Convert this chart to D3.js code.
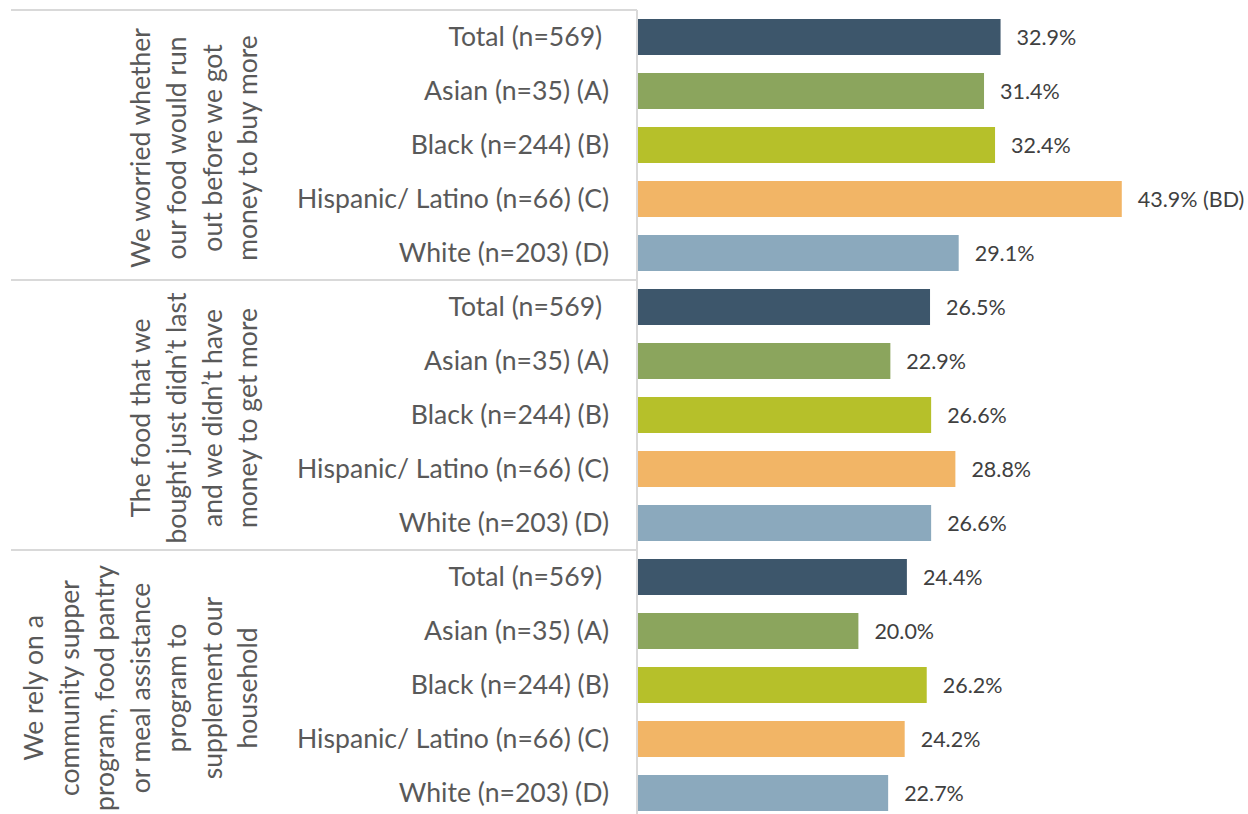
<!DOCTYPE html>
<html>
<head>
<meta charset="utf-8">
<script src="https://cdn.jsdelivr.net/npm/d3@7"></script>
<style>
  html, body { margin: 0; padding: 0; background: #ffffff; }
  svg { display: block; }
</style>
</head>
<body>
<svg id="chart" width="1248" height="814"></svg>
<script>
// Survey statements (group labels, pre-broken into lines)
const statements = [
  ["We worried whether", "our food would run", "out before we got", "money to buy more"],
  ["The food that we", "bought just didn\u2019t last", "and we didn\u2019t have", "money to get more"],
  ["We rely on a", "community supper", "program, food pantry", "or meal assistance", "program to", "supplement our", "household"]
];

// Respondent groups
const categories = [
  "Total (n=569)\u00A0",
  "Asian (n=35) (A)",
  "Black (n=244) (B)",
  "Hispanic/ Latino (n=66) (C)",
  "White (n=203) (D)"
];

// Percent agreeing, by statement
const worriedRunOut = [32.9, 31.4, 32.4, 43.9, 29.1];
const didntLast     = [26.5, 22.9, 26.6, 28.8, 26.6];
const relyOnProgram = [24.4, 20.0, 26.2, 24.2, 22.7];

// Significance markers shown after the value
const worriedSig = ["", "", "", "BD", ""];
const lastSig    = ["", "", "", "", ""];
const relySig    = ["", "", "", "", ""];

const seriesValues = [worriedRunOut, didntLast, relyOnProgram];
const seriesSig = [worriedSig, lastSig, relySig];

const colors = ["#3d566b", "#8ba55d", "#b6c02a", "#f2b566", "#8ba9bd"];

const rows = [];
seriesValues.forEach((vals, g) => {
  vals.forEach((v, c) => {
    rows.push({ key: g + "-" + c, g, c, value: v, sig: seriesSig[g][c] });
  });
});

const svg = d3.select("#chart");
const fontFamily = "Lato, 'Open Sans', sans-serif";

const axisX = 637;
const topY = 10;
const bottomY = 820;

const y = d3.scaleBand()
  .domain(rows.map(d => d.key))
  .range([topY, bottomY])
  .paddingInner(1 / 3)
  .paddingOuter(1 / 6);

const x = d3.scaleLinear()
  .domain([0, 50])
  .range([axisX + 1, axisX + 1 + 551]);

// Group dividers and the category axis line
const groupEdges = d3.range(statements.length + 1).map(i => {
  const first = rows[Math.min(i * categories.length, rows.length - 1)].key;
  return i < statements.length ? y(first) - y.step() * y.paddingOuter() : bottomY;
});

svg.append("g")
  .selectAll("line")
  .data(groupEdges)
  .join("line")
  .attr("x1", 11)
  .attr("x2", axisX)
  .attr("y1", d => d)
  .attr("y2", d => d)
  .attr("stroke", "#d9d9d9")
  .attr("stroke-width", 2);

svg.append("line")
  .attr("x1", axisX)
  .attr("x2", axisX)
  .attr("y1", topY)
  .attr("y2", bottomY)
  .attr("stroke", "#d9d9d9")
  .attr("stroke-width", 2);

// Bars
svg.append("g")
  .selectAll("rect")
  .data(rows)
  .join("rect")
  .attr("x", x(0))
  .attr("y", d => y(d.key))
  .attr("width", d => x(d.value) - x(0))
  .attr("height", y.bandwidth())
  .attr("fill", d => colors[d.c]);

// Value labels
svg.append("g")
  .selectAll("text")
  .data(rows)
  .join("text")
  .attr("x", d => x(d.value) + 16)
  .attr("y", d => y(d.key) + y.bandwidth() / 2)
  .attr("dy", "0.35em")
  .attr("font-family", fontFamily)
  .attr("font-size", 21.5)
  .attr("fill", "#404040")
  .text(d => d.value.toFixed(1) + "%" + (d.sig ? " (" + d.sig + ")" : ""));

// Category labels
svg.append("g")
  .selectAll("text")
  .data(rows)
  .join("text")
  .attr("x", 609)
  .attr("y", d => y(d.key) + y.bandwidth() / 2)
  .attr("dy", "0.35em")
  .attr("text-anchor", "end")
  .attr("font-family", fontFamily)
  .attr("font-size", 26.6)
  .attr("fill", "#595959")
  .text(d => categories[d.c]);

// Rotated statement labels
const lineGap = 35.7;
const lastLineX = 248;
statements.forEach((lines, g) => {
  const cy = (groupEdges[g] + groupEdges[g + 1]) / 2 + 3;
  svg.append("g")
    .selectAll("text")
    .data(lines)
    .join("text")
    .attr("transform", (d, i) =>
      `translate(${lastLineX - (lines.length - 1 - i) * lineGap},${cy}) rotate(-90)`)
    .attr("text-anchor", "middle")
    .attr("dy", "0.35em")
    .attr("font-family", fontFamily)
    .attr("font-size", 26.5)
    .attr("fill", "#595959")
    .text(d => d);
});
</script>
</body>
</html>
